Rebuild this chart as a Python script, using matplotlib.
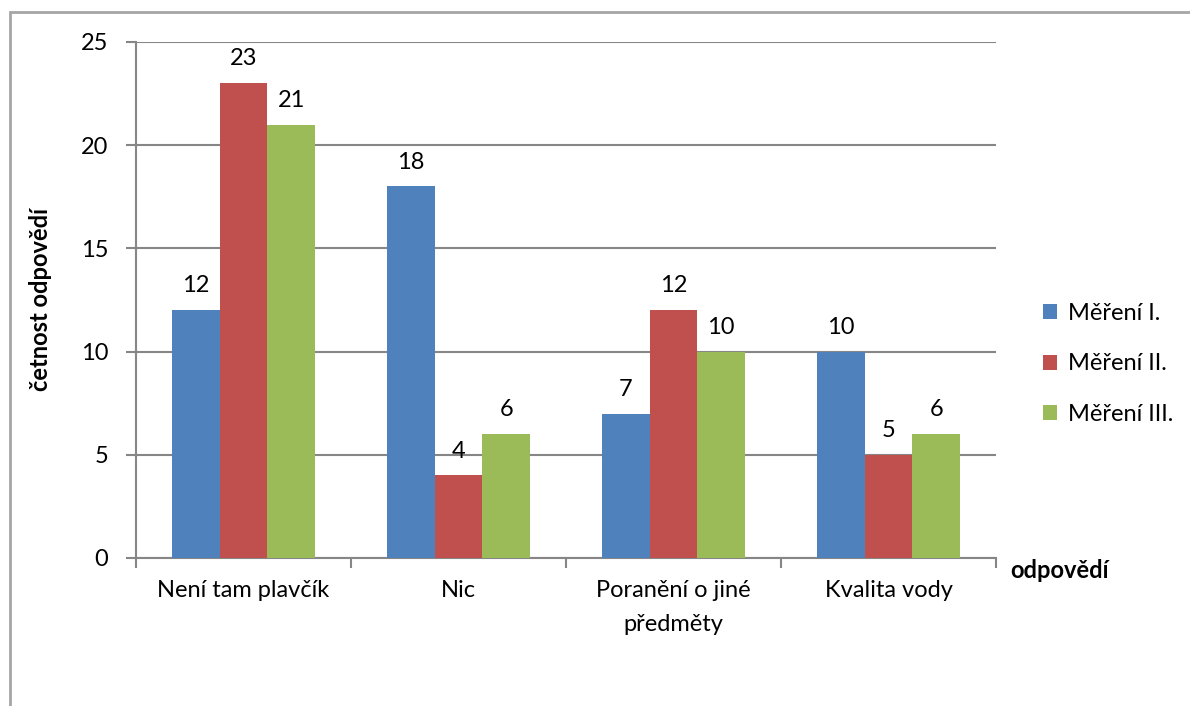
import matplotlib.pyplot as plt
import numpy as np
from matplotlib.patches import Rectangle

plt.rcParams['font.family'] = ['Lato', 'DejaVu Sans']

categories = ["Není tam plavčík", "Nic", "Poranění o jiné\npředměty", "Kvalita vody"]
series_names = ["Měření I.", "Měření II.", "Měření III."]
mereni_1 = [12, 18, 7, 10]
mereni_2 = [23, 4, 12, 5]
mereni_3 = [21, 6, 10, 6]
colors = ["#4F81BD", "#C0504D", "#9BBB59"]

FS = 17
W, H = 1190, 706
fig = plt.figure(figsize=(W / 100, H / 100), dpi=100)
ax = fig.add_axes([136 / W, 1 - 558 / H, (996 - 136) / W, (558 - 42) / H])

# outer chart frame (only left and top edges fall inside the image)
fig.patches.append(Rectangle((10 / W, -0.1), 1.2, 1 - 12 / H + 0.1,
                             transform=fig.transFigure, fill=False,
                             edgecolor="#a6a6a6", linewidth=2))

x = np.arange(len(categories))
bw = 0.222
for i, (vals, name) in enumerate(zip([mereni_1, mereni_2, mereni_3], series_names)):
    pos = x + (i - 1) * bw
    ax.bar(pos, vals, width=bw, color=colors[i], label=name, zorder=3)
    for p, v in zip(pos, vals):
        ax.annotate(str(v), (p, v), xytext=(0, 10), textcoords="offset points",
                    ha="center", va="bottom", fontsize=FS)

ax.set_xlim(-0.5, len(categories) - 0.5)
ax.set_ylim(0, 25)
ax.set_yticks(range(0, 26, 5))
ax.yaxis.grid(True, color="#868686", linewidth=1.5, zorder=0)
ax.set_axisbelow(True)

ax.set_xticks(np.arange(len(categories) + 1) - 0.5)
ax.set_xticklabels([])
ax.set_xticks(x, minor=True)
ax.set_xticklabels(categories, minor=True, fontsize=FS, linespacing=1.75)
ax.tick_params(axis="x", which="minor", length=0, pad=16)
ax.tick_params(axis="x", which="major", length=7, width=1.5, color="#868686")
ax.tick_params(axis="y", length=7, width=1.5, color="#868686", labelsize=FS, pad=13)

for s in ["top", "right"]:
    ax.spines[s].set_visible(False)
for s in ["left", "bottom"]:
    ax.spines[s].set_color("#868686")
    ax.spines[s].set_linewidth(1.5)

fig.text(41 / W, 1 - 300 / H, "četnost odpovědí", rotation=90, ha="center",
         va="center", fontsize=FS, fontweight="bold")
fig.text(1010 / W, 1 - 570 / H, "odpovědí", ha="left", va="center",
         fontsize=FS, fontweight="bold")

ax.legend(loc="center left", bbox_to_anchor=(1022 / W, 1 - 364 / H),
          bbox_transform=fig.transFigure, frameon=False, fontsize=FS,
          handlelength=0.6, handleheight=0.6, handletextpad=0.45, labelspacing=1.25)

fig.savefig("out.png", dpi=100)
